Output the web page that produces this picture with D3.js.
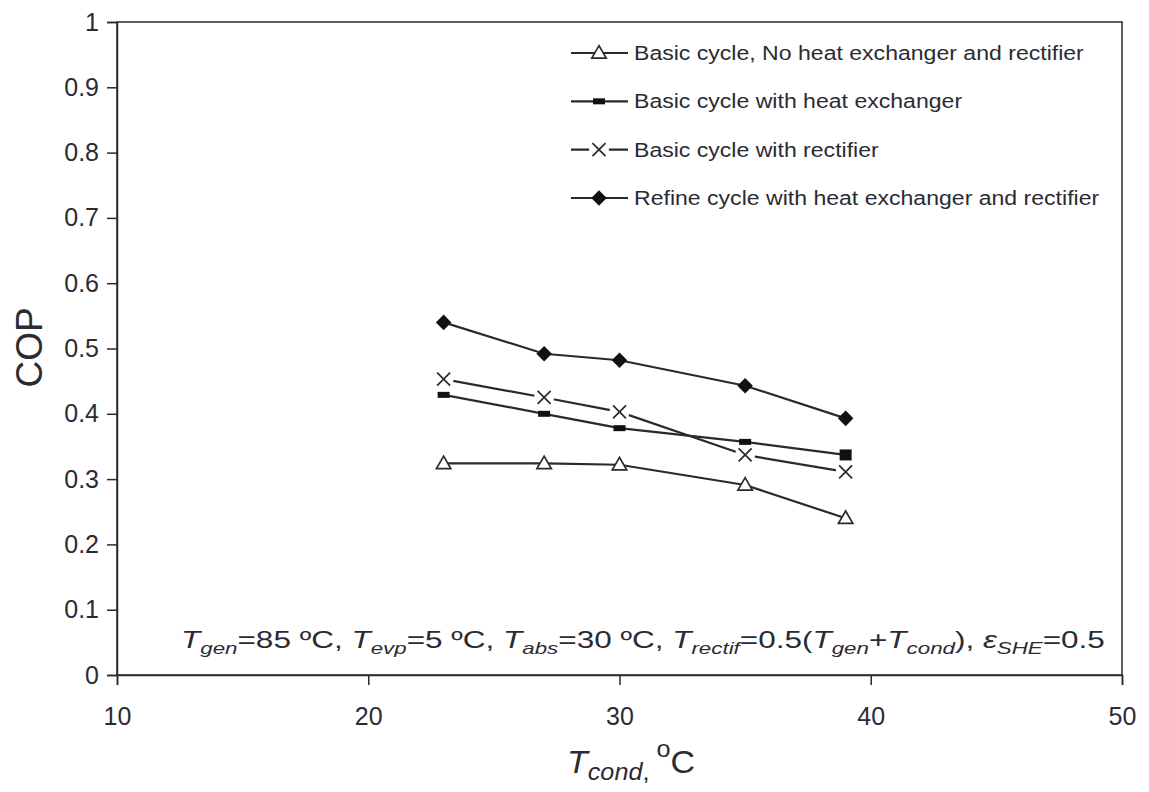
<!DOCTYPE html>
<html>
<head>
<meta charset="utf-8">
<script src="https://cdn.jsdelivr.net/npm/d3@7"></script>
<style>
  body { margin: 0; background: #fff; }
  text { font-family: "Liberation Sans", Arial, sans-serif; fill: #2b2b33; }
</style>
</head>
<body>
<div id="chart"></div>
<script>
// data
const tCond = [23, 27, 30, 35, 39];
const copBasic = [0.324, 0.324, 0.322, 0.291, 0.240];
const copHeatExchanger = [0.429, 0.400, 0.378, 0.357, 0.337];
const copRectifier = [0.453, 0.425, 0.403, 0.337, 0.311];
const copRefine = [0.540, 0.492, 0.482, 0.443, 0.393];
const seriesNames = [
  'Basic cycle, No heat exchanger and rectifier',
  'Basic cycle with heat exchanger',
  'Basic cycle with rectifier',
  'Refine cycle with heat exchanger and rectifier'
];
const xTicks = [10, 20, 30, 40, 50];
const yTicks = [0, 0.1, 0.2, 0.3, 0.4, 0.5, 0.6, 0.7, 0.8, 0.9, 1];

const w = 1149, h = 792;
const margin = {top: 22, right: 27, bottom: 117, left: 117};

const series = [
  {name: seriesNames[0], values: copBasic, marker: 'triangle'},
  {name: seriesNames[1], values: copHeatExchanger, marker: 'square'},
  {name: seriesNames[2], values: copRectifier, marker: 'cross'},
  {name: seriesNames[3], values: copRefine, marker: 'diamond'}
];

const svg = d3.select('#chart').append('svg')
  .attr('width', w)
  .attr('height', h);

const x = d3.scaleLinear().domain([10, 50]).range([margin.left, w - margin.right]);
const y = d3.scaleLinear().domain([0, 1]).range([h - margin.bottom, margin.top]);

const ink = '#2a2a2a';

// stretch a text element sideways so it spans a given width (the figure is wider than tall)
function fitWidth(sel, x0, y0, width) {
  const bw = sel.node().getBBox().width;
  sel.attr('x', null).attr('y', null)
    .attr('transform', 'translate(' + x0 + ',' + y0 + ') scale(' + (width / bw) + ',1)');
}

// frame
svg.append('rect')
  .attr('x', x(10)).attr('y', y(1))
  .attr('width', x(50) - x(10)).attr('height', y(0) - y(1))
  .attr('fill', 'none').attr('stroke', ink).attr('stroke-width', 1.5);

// axes
const xAxis = svg.append('g')
  .attr('transform', 'translate(0,' + y(0) + ')')
  .call(d3.axisBottom(x).tickValues(xTicks).tickSize(10).tickPadding(22).tickFormat(d3.format('d')));
const yAxis = svg.append('g')
  .attr('transform', 'translate(' + x(10) + ',0)')
  .call(d3.axisLeft(y).tickValues(yTicks).tickSize(10).tickPadding(8).tickFormat(d => d === 0 || d === 1 ? d : d3.format('.1f')(d)));

[xAxis, yAxis].forEach(a => {
  a.select('.domain').attr('stroke', ink).attr('stroke-width', 1.5);
  a.selectAll('.tick line').attr('stroke', ink).attr('stroke-width', 1.5);
  a.selectAll('.tick text').style('font-size', '25px').attr('fill', '#2b2b33')
    .style('font-family', '"Liberation Sans", Arial, sans-serif');
});

// markers
function drawMarker(g, type, cx, cy, big) {
  if (type === 'triangle') {
    g.append('path')
      .attr('d', d3.symbol(d3.symbolTriangle, 90)())
      .attr('transform', 'translate(' + cx + ',' + (cy + 1) + ')')
      .attr('fill', '#fff').attr('stroke', ink).attr('stroke-width', 1.7);
  } else if (type === 'square') {
    const sw = 12, sh = big ? 11 : 6;
    g.append('rect')
      .attr('x', cx - sw / 2).attr('y', cy - sh / 2)
      .attr('width', sw).attr('height', sh)
      .attr('fill', '#111');
  } else if (type === 'cross') {
    g.append('circle').attr('cx', cx).attr('cy', cy).attr('r', 10).attr('fill', '#fff');
    g.append('path')
      .attr('d', 'M' + (cx - 6.5) + ',' + (cy - 6.5) + 'L' + (cx + 6.5) + ',' + (cy + 6.5) +
                 'M' + (cx - 6.5) + ',' + (cy + 6.5) + 'L' + (cx + 6.5) + ',' + (cy - 6.5))
      .attr('stroke', ink).attr('stroke-width', 1.7);
  } else {
    g.append('rect')
      .attr('x', -5.5).attr('y', -5.5).attr('width', 11).attr('height', 11)
      .attr('transform', 'translate(' + cx + ',' + cy + ') rotate(45)')
      .attr('fill', '#111');
  }
}

const line = d3.line().x(d => x(d[0])).y(d => y(d[1]));

series.forEach(s => {
  const pts = tCond.map((t, i) => [t, s.values[i]]);
  svg.append('path')
    .datum(pts)
    .attr('d', line)
    .attr('fill', 'none')
    .attr('stroke', ink)
    .attr('stroke-width', 2.2);
});
series.forEach(s => {
  const g = svg.append('g');
  tCond.forEach((t, i) => drawMarker(g, s.marker, x(t), y(s.values[i]), i === tCond.length - 1));
});

// legend
const legendY = d3.scalePoint().domain(seriesNames).range([53, 198]);
let legendScale = null;
series.forEach(s => {
  const ly = legendY(s.name);
  const g = svg.append('g');
  g.append('line')
    .attr('x1', 571).attr('x2', 628).attr('y1', ly).attr('y2', ly)
    .attr('stroke', ink).attr('stroke-width', 2.2);
  drawMarker(g, s.marker, 599, ly, false);
  const t = g.append('text')
    .style('font-size', '21px')
    .text(s.name);
  if (legendScale === null) legendScale = 450 / t.node().getBBox().width;
  t.attr('transform', 'translate(634,' + (ly + 7) + ') scale(' + legendScale + ',1)');
});

// axis titles
svg.append('text')
  .attr('transform', 'translate(42,' + (y(0.5) - 1) + ') rotate(-90)')
  .attr('text-anchor', 'middle')
  .style('font-size', '37px')
  .text('COP');

const xt = svg.append('text')
  .style('font-size', '31px');
xt.append('tspan').style('font-style', 'italic').text('T');
xt.append('tspan').style('font-style', 'italic').style('font-size', '23px').attr('dy', 7).text('cond');
xt.append('tspan').style('font-size', '23px').text(', ');
xt.append('tspan').style('font-size', '23px').attr('dy', -23).text('o');
xt.append('tspan').attr('dy', 16).text('C');
fitWidth(xt, 567, 773, 128);

// condition note
const note = svg.append('text')
  .style('font-size', '24px');
function sym(t, sub, after) {
  note.append('tspan').style('font-style', 'italic').text(t);
  note.append('tspan').style('font-style', 'italic').style('font-size', '17px').attr('dy', 6).text(sub);
  note.append('tspan').attr('dy', -6).text(after);
}
sym('T', 'gen', '=85 \u00BAC, ');
sym('T', 'evp', '=5 \u00BAC, ');
sym('T', 'abs', '=30 \u00BAC, ');
sym('T', 'rectif', '=0.5(');
sym('T', 'gen', '+');
sym('T', 'cond', '), ');
note.append('tspan').style('font-style', 'italic').text('\u03B5');
note.append('tspan').style('font-style', 'italic').style('font-size', '17px').attr('dy', 6).text('SHE');
note.append('tspan').attr('dy', -6).text('=0.5');
fitWidth(note, 181, 648, 924);
</script>
</body>
</html>
